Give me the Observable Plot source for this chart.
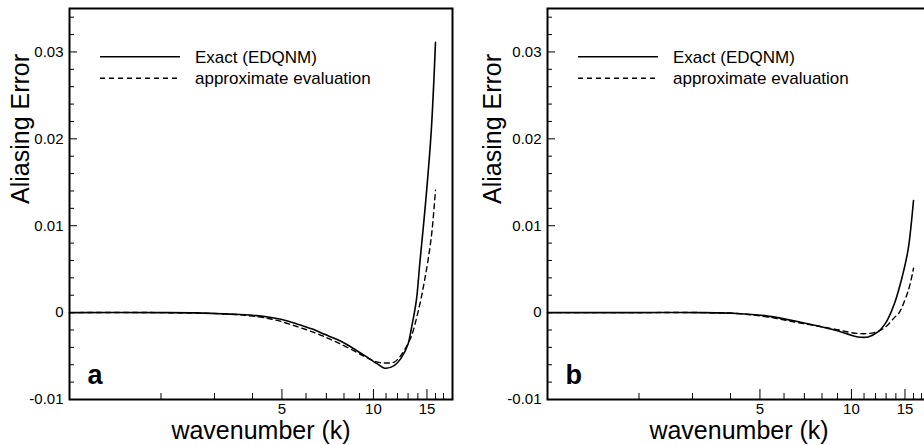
<!DOCTYPE html>
<html>
<head>
<meta charset="utf-8">
<script src="https://cdn.jsdelivr.net/npm/d3@7"></script>
<script src="https://cdn.jsdelivr.net/npm/@observablehq/plot@0.6"></script>
<style>
html, body { margin: 0; padding: 0; background: #fff; }
#wrap { position: relative; width: 924px; height: 445px; overflow: hidden; background: #fff; }
#wrap > svg { position: absolute; top: 0; }
</style>
</head>
<body>
<div id="wrap"></div>
<script>
// ---- Data ----
// Panel a
const kExactA  = [1, 2, 2.6, 3, 3.5, 4, 4.5, 5, 5.6, 6.3, 6.9, 7.6, 8.2, 9.3, 10.3, 10.9, 11.7, 12.3, 13, 13.3, 13.84, 14.2, 14.9, 15.5, 16];
const exactA   = [0, 0, -0.00003, -0.0001, -0.0002, -0.0003, -0.0005, -0.0008, -0.0013, -0.0019, -0.0025, -0.0031, -0.0037, -0.0049, -0.0059, -0.0064, -0.0061, -0.0053, -0.0036, -0.002, 0.0014, 0.0056, 0.0133, 0.021, 0.0311];
const kApproxA = [1, 2, 3, 3.5, 4, 4.7, 5.6, 6.5, 7.25, 8.2, 9.3, 10.3, 11, 11.7, 12.2, 12.65, 13.3, 14.0, 14.73, 15.5, 16];
const approxA  = [0, 0, -0.0001, -0.0002, -0.0004, -0.0008, -0.0016, -0.0024, -0.0031, -0.004, -0.005, -0.0057, -0.0058, -0.0057, -0.0051, -0.0043, -0.0028, 0, 0.0037, 0.0087, 0.0141];
// Panel b
const kExactB  = [1, 2, 3.2, 4.2, 5.3, 6.8, 8.8, 10.5, 11.35, 12.25, 12.9, 13.2, 13.9, 14.3, 14.9, 15.4, 16];
const exactB   = [0, 0, 0, -0.0001, -0.0004, -0.0011, -0.002, -0.0028, -0.0028, -0.0022, -0.0013, -0.0007, 0.0012, 0.0026, 0.005, 0.0075, 0.0129];
const kApproxB = [1, 2, 3.2, 4.2, 5.3, 6.8, 8.8, 10.5, 11.9, 12.9, 13.9, 14.3, 15.4, 16];
const approxB  = [0, 0, 0, -0.0001, -0.0005, -0.0012, -0.0019, -0.0024, -0.0023, -0.0017, -0.0005, -0.0001, 0.0026, 0.0051];

// Axes
const xDomain = [1, 18.2];
const yDomain = [-0.01, 0.035];
const xMajorTicks = [5, 10, 15];
const xMinorTicks = [2, 3, 4, 6, 7, 8, 9, 11, 12, 13, 14, 16, 17];
const yMajorTicks = [-0.01, 0, 0.01, 0.02, 0.03];
const yTickLabels = ["-0.01", "0", "0.01", "0.02", "0.03"];
const yMinorTicks = [-0.008, -0.006, -0.004, -0.002, 0.002, 0.004, 0.006, 0.008, 0.012, 0.014, 0.016, 0.018,
                     0.022, 0.024, 0.026, 0.028, 0.032, 0.034];
const xLabel = "wavenumber (k)";
const yLabel = "Aliasing Error";
const seriesNames = ["Exact (EDQNM)", "approximate evaluation"];

const FONT = '"Liberation Sans", Arial, Helvetica, sans-serif';
const H = 445, MT = 8, MB = 46;
const plotH = H - MT - MB;

function toRows(ks, vs) { return ks.map((k, i) => ({k, v: vs[i]})); }

function panel({letter, left, width, ml, mr, exactK, exactV, approxK, approxV, yLabelDx}) {
  const plotW = width - ml - mr;
  const svg = Plot.plot({
    width, height: H,
    marginLeft: ml, marginRight: mr, marginTop: MT, marginBottom: MB,
    style: {fontFamily: FONT, fontSize: "15px", color: "#000", background: "transparent", overflow: "visible"},
    x: {type: "log", domain: xDomain, axis: null},
    y: {domain: yDomain, axis: null},
    marks: [
      // data
      Plot.line(toRows(approxK, approxV), {x: "k", y: "v", stroke: "#000", strokeWidth: 1.4, strokeDasharray: "5,4", curve: "catmull-rom"}),
      Plot.line(toRows(exactK, exactV), {x: "k", y: "v", stroke: "#000", strokeWidth: 1.6, curve: "catmull-rom"}),
      // inward ticks
      Plot.tickX(xMajorTicks, {x: d => d, stroke: "#000", strokeWidth: 1, insetTop: plotH - 10}),
      Plot.tickX(xMinorTicks, {x: d => d, stroke: "#000", strokeWidth: 1, insetTop: plotH - 6}),
      Plot.tickY(yMajorTicks, {y: d => d, stroke: "#000", strokeWidth: 1, insetRight: plotW - 8}),
      Plot.tickY(yMinorTicks, {y: d => d, stroke: "#000", strokeWidth: 1, insetRight: plotW - 5}),
      // tick labels
      Plot.text(xMajorTicks, {x: d => d, frameAnchor: "bottom", dy: 10, text: d => String(d), fontSize: 15, lineAnchor: "middle"}),
      Plot.text(yMajorTicks, {y: d => d, frameAnchor: "left", dx: -6, textAnchor: "end", text: (d, i) => yTickLabels[i], fontSize: 15, lineAnchor: "middle"}),
      // axis titles
      Plot.text([xLabel], {frameAnchor: "bottom", dy: 31, text: d => d, fontSize: 25, lineAnchor: "middle"}),
      Plot.text([yLabel], {frameAnchor: "left", dx: yLabelDx, rotate: -90, text: d => d, fontSize: 25, lineAnchor: "middle"}),
      // legend text
      Plot.text([seriesNames[0]], {frameAnchor: "top-left", dx: 125.5, dy: 49.5, textAnchor: "start", text: d => d, fontSize: 17, lineAnchor: "middle"}),
      Plot.text([seriesNames[1]], {frameAnchor: "top-left", dx: 125.5, dy: 70, textAnchor: "start", text: d => d, fontSize: 17, lineAnchor: "middle"}),
      // panel letter
      Plot.text([letter], {frameAnchor: "bottom-left", dx: 18, dy: -24, textAnchor: "start", text: d => d, fontSize: 27, fontWeight: "bold", lineAnchor: "middle"}),
      Plot.frame({stroke: "#000", strokeWidth: 2})
    ]
  });
  // legend line samples
  const g = d3.select(svg).append("g").attr("stroke", "#000").attr("fill", "none");
  g.append("line").attr("x1", ml + 31).attr("x2", ml + 111).attr("y1", 56.7).attr("y2", 56.7).attr("stroke-width", 1.6);
  g.append("line").attr("x1", ml + 31).attr("x2", ml + 111).attr("y1", 78.3).attr("y2", 78.3).attr("stroke-width", 1.4).attr("stroke-dasharray", "5,4");
  svg.style.left = left + "px";
  return svg;
}

const wrap = document.getElementById("wrap");
wrap.appendChild(panel({letter: "a", left: 0, width: 462, ml: 69, mr: 10,
  exactK: kExactA, exactV: exactA, approxK: kApproxA, approxV: approxA, yLabelDx: -49}));
wrap.appendChild(panel({letter: "b", left: 462, width: 470, ml: 85, mr: 2,
  exactK: kExactB, exactV: exactB, approxK: kApproxB, approxV: approxB, yLabelDx: -54.5}));
</script>
</body>
</html>
